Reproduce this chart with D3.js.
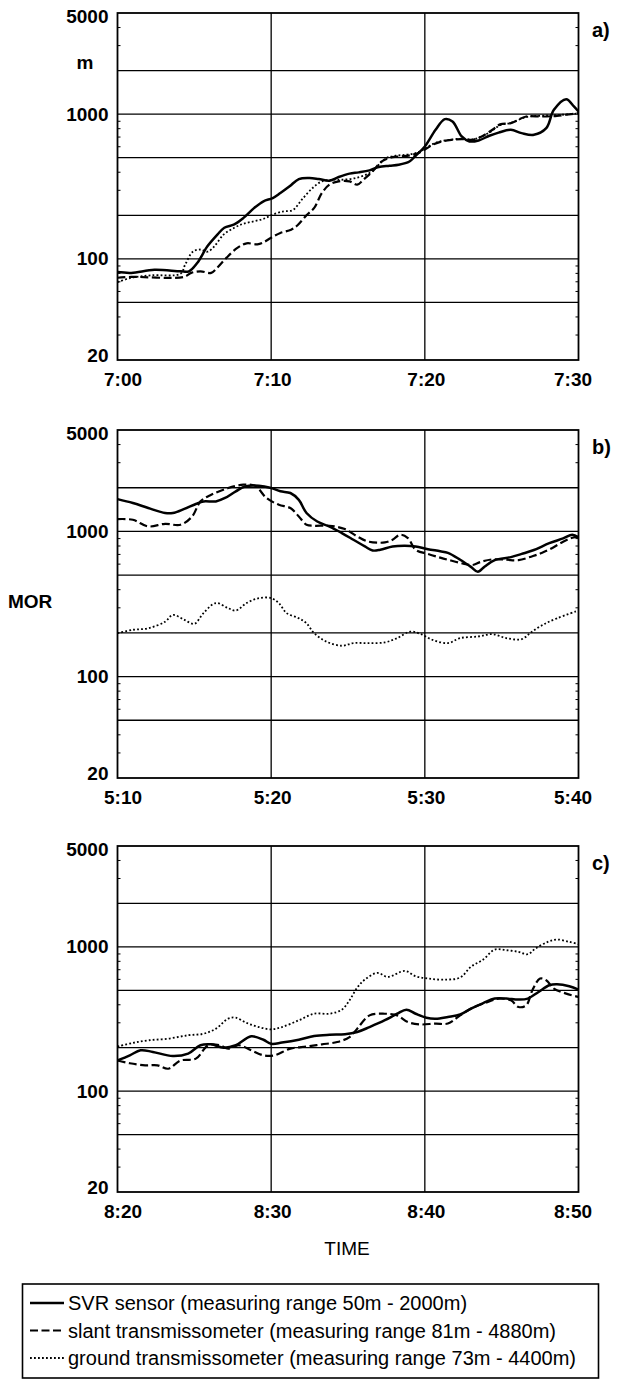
<!DOCTYPE html>
<html>
<head>
<meta charset="utf-8">
<script src="https://d3js.org/d3.v7.min.js"></script>
<title>MOR comparison</title>
<style>
  body { margin: 0; background: #fff; }
  svg { display: block; }
  text { font-family: "Liberation Sans", Arial, Helvetica, sans-serif; fill: #000; }
  .tick text { font-size: 19px; font-weight: bold; }
  .grid { stroke: #000; stroke-width: 1.3px; }
  .frame { fill: none; stroke: #000; stroke-width: 1.8px; }
  .minor line { stroke: #000; stroke-width: 1px; }
  .svr { fill: none; stroke: #000; stroke-width: 2.5px; }
  .slant { fill: none; stroke: #000; stroke-width: 2.2px; stroke-dasharray: 8 3.5; }
  .ground { fill: none; stroke: #000; stroke-width: 1.8px; stroke-dasharray: 1.8 2.2; }
</style>
</head>
<body>
<svg width="617" height="1380"></svg>
<script>
// minutes after panel start, MOR in m
const svrA = [[0,81],[0.9,80],[2.4,84],[4.1,82],[4.65,82],[5.2,94],[5.85,122],[6.5,147],[6.95,164],[7.6,173],[8.2,192],[8.9,225],[9.5,250],[10.1,263],[10.6,285],[11.2,317],[11.8,356],[12.5,362],[13.1,356],[13.8,347],[14.4,368],[15.1,388],[15.7,396],[16.4,409],[17.0,431],[17.7,440],[18.3,447],[19.0,471],[19.4,516],[20.0,598],[20.7,780],[21.3,924],[21.8,890],[22.4,701],[22.9,648],[23.5,658],[24.2,709],[24.8,745],[25.6,780],[26.3,739],[27.1,720],[27.9,800],[28.4,1071],[29.2,1269],[29.7,1130],[30,1043]];
const slantA = [[0,74],[0.9,75],[4.3,75],[4.8,80],[5.4,82],[6.1,80],[6.5,87],[7.1,102],[7.8,119],[8.4,128],[9.1,126],[9.5,130],[10.0,140],[10.6,151],[11.3,159],[11.7,170],[12.3,200],[12.8,225],[13.3,285],[13.8,326],[14.4,343],[15.1,343],[15.6,326],[16.0,352],[16.6,402],[17.2,471],[17.9,505],[18.5,511],[19.2,524],[19.8,553],[20.5,614],[21.1,648],[21.8,665],[22.4,672],[23.1,665],[23.7,701],[24.4,780],[24.9,850],[25.6,867],[26.6,963],[27.6,963],[28.6,974],[30,1016]];
const groundA = [[0,69],[0.9,74],[2.2,77],[4.1,79],[4.4,91],[4.9,112],[5.4,116],[5.85,112],[6.3,122],[6.9,147],[7.6,164],[8.2,175],[8.9,182],[9.5,189],[10.1,202],[10.8,213],[11.4,217],[12.0,257],[12.7,309],[13.3,343],[14.0,352],[14.6,352],[15.5,362],[16.4,392],[17.0,447],[17.5,497],[18.1,516],[18.8,524],[19.4,538],[19.8,561],[20.5,620],[21.1,652],[21.8,668],[22.4,676],[23.1,668],[23.7,700],[24.4,770],[24.9,840],[25.6,870],[26.6,955],[27.6,975],[28.6,985],[30,1010]];

const svrB = [[0,1670],[1,1570],[2,1450],[3.1,1340],[3.6,1340],[4.35,1430],[5.1,1545],[5.6,1610],[6.4,1610],[7.0,1700],[7.7,1890],[8.3,2040],[9.2,2065],[10.0,1990],[10.6,1890],[11.25,1840],[11.8,1650],[12.3,1340],[13.0,1170],[13.8,1080],[14.6,975],[15.35,877],[16.1,788],[16.6,739],[17.1,748],[17.9,788],[18.7,797],[19.4,788],[20.2,755],[21.0,730],[21.5,712],[22.3,638],[23.0,570],[23.45,527],[23.9,574],[24.55,635],[25.6,665],[26.3,700],[27.1,745],[28.1,830],[29.0,895],[29.6,950],[30,910]];
const slantB = [[0,1216],[1,1203],[2,1083],[3.1,1129],[4.1,1111],[4.86,1269],[5.4,1611],[6.1,1790],[7.2,1990],[8.2,2099],[8.95,2065],[9.7,1698],[10.5,1526],[11.25,1449],[11.8,1269],[12.3,1111],[12.8,1094],[13.8,1094],[14.8,1038],[15.6,924],[16.3,853],[17.4,840],[17.9,877],[18.4,949],[18.9,900],[19.4,748],[20.2,700],[21.0,660],[21.7,630],[22.5,600],[23.1,587],[23.6,615],[24.4,642],[25.3,638],[26.1,634],[27.0,675],[27.6,710],[28.3,770],[29.0,850],[29.6,905],[30,920]];
const groundB = [[0,199],[1,210],[2,215],[3.1,239],[3.6,266],[4.35,246],[5.0,231],[5.6,274],[6.4,321],[7.2,296],[7.7,285],[8.4,321],[9.2,347],[10.0,347],[10.5,321],[11.0,274],[11.8,252],[12.3,233],[12.8,199],[13.6,174],[14.6,163],[15.35,170],[16.3,170],[17.4,172],[18.2,184],[19.05,204],[19.7,197],[20.5,179],[21.5,170],[22.3,184],[23.5,189],[24.4,196],[25.3,184],[26.3,181],[26.85,199],[27.6,225],[28.6,252],[30,285]];

const svrC = [[0,163],[0.8,177],[1.5,192],[2.3,187],[3.6,175],[4.6,182],[5.4,208],[6.1,211],[6.9,200],[7.7,208],[8.7,240],[9.5,227],[10.0,213],[10.7,217],[11.8,227],[12.8,241],[13.8,246],[14.8,248],[15.6,257],[16.4,278],[17.4,310],[18.2,344],[18.8,367],[19.4,344],[20.1,323],[20.7,318],[21.5,327],[22.3,340],[23.0,373],[23.8,408],[24.55,438],[25.3,438],[26.1,431],[26.7,438],[27.4,487],[28.1,542],[28.6,550],[29.4,533],[30,505]];
const slantC = [[0,163],[0.8,156],[1.8,151],[2.6,151],[3.3,143],[4.1,163],[5.1,168],[5.9,208],[6.65,208],[7.2,197],[7.9,208],[8.7,192],[9.5,177],[10.2,177],[11.25,197],[12.3,204],[13.3,211],[14.3,219],[15.1,237],[15.6,271],[16.4,335],[17.4,344],[18.2,335],[18.9,301],[19.7,290],[20.7,294],[21.5,294],[22.3,335],[23.0,373],[24.1,415],[24.8,438],[25.6,426],[26.1,383],[26.6,394],[27.0,501],[27.5,603],[27.9,587],[28.4,514],[29.2,474],[30,450]];
const groundC = [[0,204],[1,216],[2,225],[3.3,231],[4.6,244],[5.6,250],[6.4,271],[7.2,318],[7.7,323],[8.4,297],[9.2,278],[10.0,268],[10.7,278],[11.8,310],[12.8,344],[13.8,344],[14.6,367],[15.1,426],[15.6,522],[16.1,593],[16.9,660],[17.6,619],[18.7,681],[19.4,626],[20.2,603],[21.2,593],[22.3,613],[23.0,728],[23.8,817],[24.55,958],[25.3,948],[26.1,923],[26.7,889],[27.2,974],[28.0,1083],[28.6,1124],[29.4,1083],[30,1043]];

const timeLabelsA = ["7:00", "7:10", "7:20", "7:30"];
const timeLabelsB = ["5:10", "5:20", "5:30", "5:40"];
const timeLabelsC = ["8:20", "8:30", "8:40", "8:50"];
const timeTicks = [0, 10, 20, 30];
const yLabels = [20, 100, 1000, 5000];
const yGrid = [50, 100, 200, 500, 1000, 2000];
const yMinor = [30, 40, 60, 70, 80, 90, 300, 400, 600, 700, 800, 900, 3000, 4000];
const panelNames = ["a)", "b)", "c)"];
const legendLabels = [
  "SVR sensor (measuring range 50m - 2000m)",
  "slant transmissometer (measuring range 81m - 4880m)",
  "ground transmissometer (measuring range 73m - 4400m)"
];

const svg = d3.select("svg");
const left = 117.5, right = 578.5;
const labelShift = [5, 1, 1, -6];

const panels = [
  { top: 13, bottom: 360, labels: timeLabelsA, series: [svrA, slantA, groundA] },
  { top: 430, bottom: 778, labels: timeLabelsB, series: [svrB, slantB, groundB] },
  { top: 846, bottom: 1192, labels: timeLabelsC, series: [svrC, slantC, groundC] }
];
const styles = ["svr", "slant", "ground"];

panels.forEach((p, pi) => {
  const x = d3.scaleLinear().domain([0, 30]).range([left, right]);
  const y = d3.scaleLog().domain([20, 5000]).range([p.bottom, p.top]);
  const g = svg.append("g");

  // grid
  g.selectAll(".hgrid").data(yGrid).enter().append("line")
    .attr("class", "grid")
    .attr("x1", left).attr("x2", right)
    .attr("y1", d => y(d)).attr("y2", d => y(d));
  g.selectAll(".vgrid").data([10, 20]).enter().append("line")
    .attr("class", "grid")
    .attr("x1", d => x(d)).attr("x2", d => x(d))
    .attr("y1", p.top).attr("y2", p.bottom);

  // minor ticks pointing inward on both sides
  g.append("g").attr("class", "minor")
    .attr("transform", `translate(${left},0)`)
    .call(d3.axisRight(y).tickValues(yMinor).tickSize(3).tickFormat(""))
    .call(a => a.select(".domain").remove());
  g.append("g").attr("class", "minor")
    .attr("transform", `translate(${right},0)`)
    .call(d3.axisLeft(y).tickValues(yMinor).tickSize(3).tickFormat(""))
    .call(a => a.select(".domain").remove());

  // series
  const clipId = "clip" + pi;
  g.append("clipPath").attr("id", clipId).append("rect")
    .attr("x", left).attr("y", p.top).attr("width", right - left).attr("height", p.bottom - p.top);
  const line = d3.line()
    .x(d => x(d[0])).y(d => y(d[1]))
    .curve(d3.curveCatmullRom.alpha(0.5));
  p.series.forEach((s, i) => {
    g.append("path").datum(s)
      .attr("class", styles[i])
      .attr("clip-path", `url(#${clipId})`)
      .attr("d", line);
  });

  g.append("rect").attr("class", "frame")
    .attr("x", left).attr("y", p.top)
    .attr("width", right - left).attr("height", p.bottom - p.top);

  // y labels
  g.append("g")
    .attr("transform", `translate(${left},0)`)
    .call(d3.axisLeft(y).tickValues(yLabels).tickSize(0).tickPadding(9).tickFormat(d3.format("d")))
    .call(a => a.select(".domain").remove())
    .selectAll("text")
    .attr("y", d => d === 5000 ? 3 : d === 20 ? -5 : 0);

  // time labels
  g.append("g")
    .attr("transform", `translate(0,${p.bottom})`)
    .call(d3.axisBottom(x).tickValues(timeTicks).tickSize(0).tickPadding(13)
      .tickFormat((d, i) => p.labels[i]))
    .call(a => a.select(".domain").remove())
    .selectAll("text")
    .attr("dx", (d, i) => labelShift[i]);

  g.append("text")
    .attr("x", 592).attr("y", p.top + 24)
    .style("font-size", "20px").style("font-weight", "bold")
    .text(panelNames[pi]);
});

svg.append("text").attr("x", 85).attr("y", 69)
  .attr("text-anchor", "middle")
  .style("font-size", "19px").style("font-weight", "bold")
  .text("m");

svg.append("text").attr("x", 8).attr("y", 608)
  .style("font-size", "19px").style("font-weight", "bold")
  .text("MOR");

svg.append("text").attr("x", 347).attr("y", 1255)
  .attr("text-anchor", "middle")
  .style("font-size", "19px")
  .text("TIME");

// legend
const legend = svg.append("g");
legend.append("rect")
  .attr("x", 22.5).attr("y", 1284).attr("width", 576).attr("height", 94)
  .attr("fill", "none").attr("stroke", "#000").attr("stroke-width", 1.6);
const rowY = d3.scalePoint().domain(d3.range(3)).range([1303, 1358]);
legendLabels.forEach((label, i) => {
  legend.append("line")
    .attr("class", styles[i])
    .attr("x1", 30).attr("x2", 64)
    .attr("y1", rowY(i)).attr("y2", rowY(i));
  legend.append("text")
    .attr("x", 68).attr("y", rowY(i) + 7)
    .style("font-size", "20px")
    .text(label);
});
</script>
</body>
</html>
